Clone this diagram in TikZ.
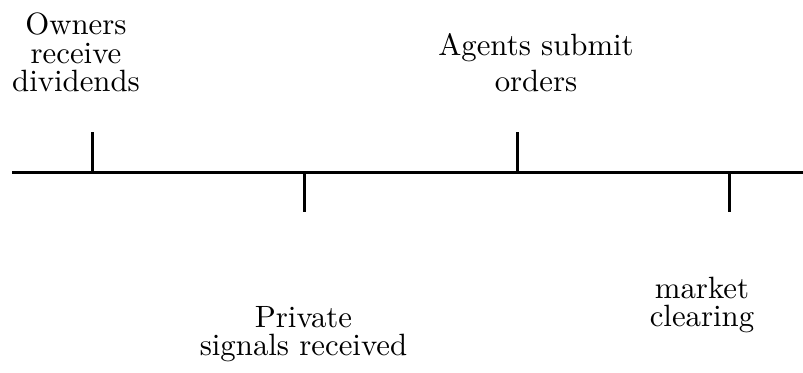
\documentclass[tikz,border=0pt]{standalone}
\begin{document}
\begin{tikzpicture}[x=0.5pt,y=-0.5pt,
  axis/.style={line width=1.5pt},
  tick/.style={line width=1.5pt},
  lab/.style={inner sep=0pt,align=center,anchor=base,scale=1.54,font=\fontsize{10}{9.25}\selectfont},
  labwide/.style={lab,font=\fontsize{10}{11.7}\selectfont}]
\useasboundingbox (0,0) rectangle (803,372);
\coordinate (L) at (12,172.5);
\coordinate (R) at (803,172.5);
\draw[axis] (L) -- (R);
\coordinate (a0) at (92,172.5);  \coordinate (a1) at (92,132);
\coordinate (b0) at (304,172.5); \coordinate (b1) at (304,212);
\coordinate (c0) at (517,172.5); \coordinate (c1) at (517,132);
\coordinate (d0) at (729,172.5); \coordinate (d1) at (729,212);
\draw[tick] (a0) -- (a1);
\draw[tick] (b0) -- (b1);
\draw[tick] (c0) -- (c1);
\draw[tick] (d0) -- (d1);
\node[lab] (own) at (76,91.7) {Owners\\receive\\dividends};
\node[labwide] (agt) at (536,91.7) {Agents submit\\orders};
\node[lab] (prv) at (303.5,355.7) {Private\\signals received};
\node[lab] (mkt) at (702,326.7) {market\\clearing};
\end{tikzpicture}
\end{document}
